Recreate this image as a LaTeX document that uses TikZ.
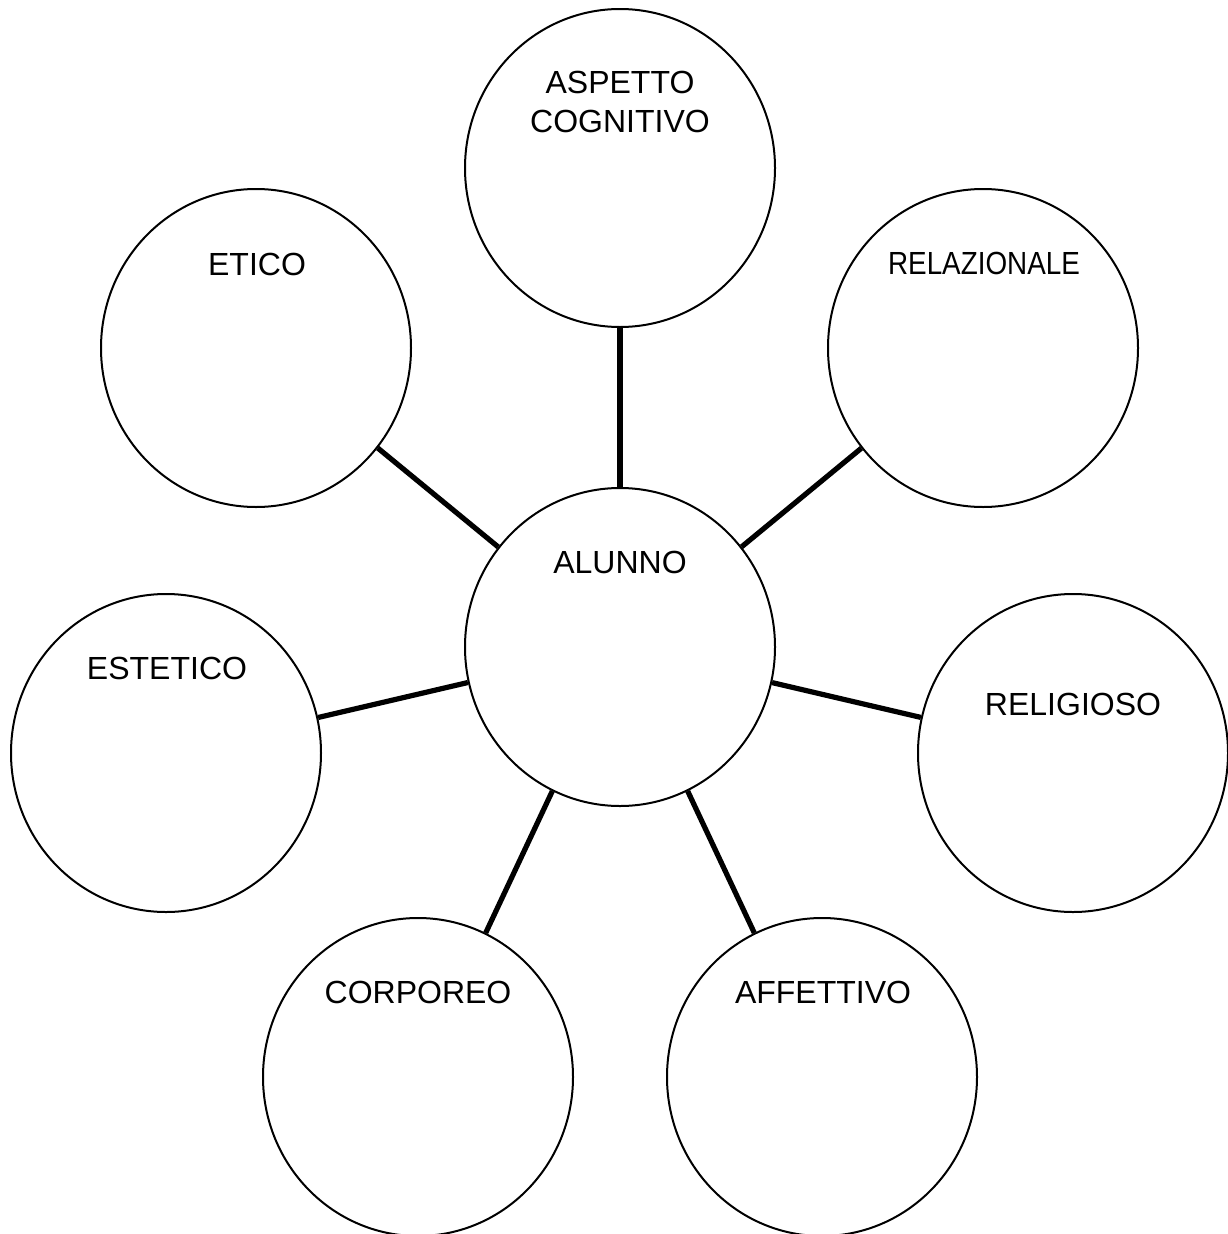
\documentclass[tikz,border=0pt]{standalone}
\usepackage{fontspec}
\setmainfont{Liberation Sans}
\usepackage{graphicx}
\usetikzlibrary{shapes.geometric}

\begin{document}
\begin{tikzpicture}[x=1pt, y=-1pt,
    bubble/.style={ellipse, draw, line width=2pt, minimum width=310pt, minimum height=318pt, inner sep=0pt, fill=white},
    tag/.style={anchor=base, font=\fontsize{32pt}{39pt}\selectfont, inner sep=0pt, align=center},
    link/.style={line width=5.2pt}]
    % Frame
    \useasboundingbox (0,0) rectangle (1228,1234);

    % Circles
    \node[bubble] (alunno) at (620,647) {};
    \node[bubble] (cognitivo) at (620,168) {};
    \node[bubble] (etico) at (256,348) {};
    \node[bubble] (relazionale) at (983,348) {};
    \node[bubble] (estetico) at (166,753) {};
    \node[bubble] (religioso) at (1073,753) {};
    \node[bubble] (corporeo) at (418,1077) {};
    \node[bubble] (affettivo) at (822,1077) {};

    % Links
    \draw[link] (alunno) -- (cognitivo);
    \draw[link] (alunno) -- (etico);
    \draw[link] (alunno) -- (relazionale);
    \draw[link] (alunno) -- (estetico);
    \draw[link] (alunno) -- (religioso);
    \draw[link] (alunno) -- (corporeo);
    \draw[link] (alunno) -- (affettivo);

    % Labels
    \node[tag] (t-alunno) at (620,573) {ALUNNO};
    \node[tag] (t-cognitivo) at (620,132) {ASPETTO\\COGNITIVO};
    \node[tag] (t-etico) at (257,275) {ETICO};
    \node[tag] (t-relazionale) at (984,274) {\scalebox{0.87}[1]{RELAZIONALE}};
    \node[tag] (t-estetico) at (167,679) {ESTETICO};
    \node[tag] (t-religioso) at (1073,715) {RELIGIOSO};
    \node[tag] (t-corporeo) at (418,1003) {CORPOREO};
    \node[tag] (t-affettivo) at (823,1003) {AFFETTIVO};
\end{tikzpicture}
\end{document}
